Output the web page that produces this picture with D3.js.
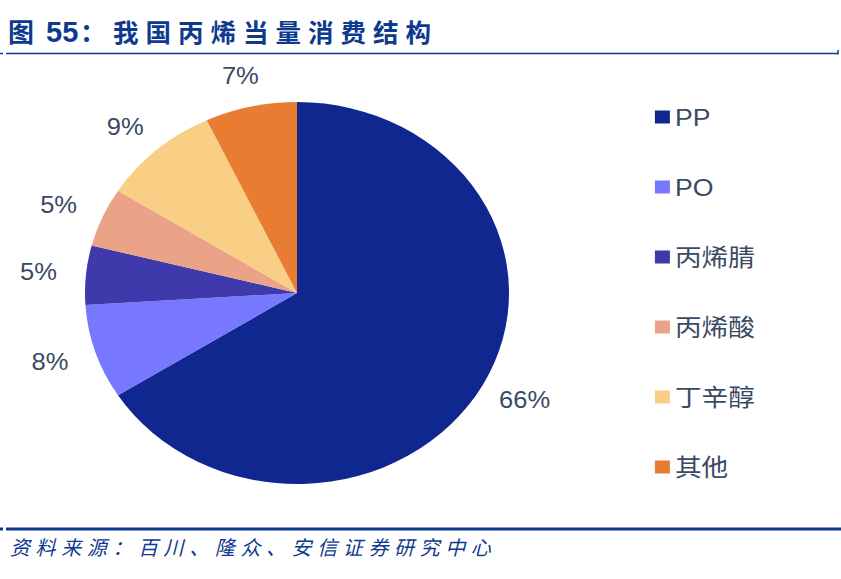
<!DOCTYPE html>
<html>
<head>
<meta charset="utf-8">
<script src="https://cdn.jsdelivr.net/npm/d3@7"></script>
<style>
  body { margin: 0; background: #fff; }
  svg { display: block; }
</style>
</head>
<body>
<svg id="paper"></svg>
<script>
const categories = ["PP", "PO", "丙烯腈", "丙烯酸", "丁辛醇", "其他"];
const shares = [66, 8, 5, 5, 9, 7];
const sliceColors = ["#10278f", "#7878fe", "#3e3aac", "#eba387", "#f8cf84", "#e87c32"];

const width = 841, height = 579;
const stretch = 1.11; // the original picture is a little wider than tall
const cx = 297, cy = 293, radius = 191;
const labelRx = 234, labelRy = 222;
const textColor = "#3b4a64";
const navy = "#0d3a8e";
const cjk = "'Noto Sans CJK SC', sans-serif";

const svg = d3.select("#paper")
  .attr("width", width)
  .attr("height", height);

// title
const title = svg.append("g")
  .attr("class", "title")
  .attr("fill", navy)
  .attr("font-weight", "bold");

title.append("text")
  .attr("x", 8).attr("y", 42)
  .attr("font-family", cjk)
  .attr("font-size", 26)
  .text("图");
title.append("text")
  .attr("x", 46).attr("y", 42)
  .attr("font-family", "'Liberation Sans', Arial, sans-serif")
  .attr("font-size", 29)
  .text("55");
title.append("text")
  .attr("x", 80).attr("y", 42)
  .attr("font-family", cjk)
  .attr("font-size", 26)
  .text("：");
title.append("text")
  .attr("x", 113).attr("y", 42)
  .attr("font-family", cjk)
  .attr("font-size", 25.5)
  .attr("letter-spacing", 7)
  .text("我国丙烯当量消费结构");

svg.append("line")
  .attr("x1", 0).attr("x2", 3)
  .attr("y1", 53.5).attr("y2", 53.5)
  .attr("stroke", navy).attr("stroke-width", 1.5);
svg.append("line")
  .attr("x1", 6).attr("x2", 838)
  .attr("y1", 53.5).attr("y2", 53.5)
  .attr("stroke", navy).attr("stroke-width", 1.5);
svg.append("line")
  .attr("x1", 838).attr("x2", 838)
  .attr("y1", 50).attr("y2", 54.5)
  .attr("stroke", navy).attr("stroke-width", 1.5);

// bottom rule + source
svg.append("rect")
  .attr("x", 6).attr("y", 527.5)
  .attr("width", 835).attr("height", 3)
  .attr("fill", navy);
svg.append("rect")
  .attr("x", 0).attr("y", 527.5)
  .attr("width", 3).attr("height", 3)
  .attr("fill", navy);

svg.append("text")
  .attr("x", 10)
  .attr("y", 555)
  .attr("fill", navy)
  .attr("font-family", cjk)
  .attr("font-style", "italic")
  .attr("font-size", 20)
  .attr("letter-spacing", 5.6)
  .text("资料来源：百川、隆众、安信证券研究中心");

// chart area, stretched horizontally like the original
const chart = svg.append("g")
  .attr("transform", `scale(${stretch},1)`);

const pie = d3.pie()
  .sort(null)
  .value((d) => d.value);

const data = categories.map((name, i) => ({ name: name, value: shares[i], color: sliceColors[i] }));
const arcs = pie(data);

const arc = d3.arc().innerRadius(0).outerRadius(radius);
const labelArc = d3.arc().innerRadius(labelRx).outerRadius(labelRx);

const pieGroup = chart.append("g")
  .attr("class", "pie")
  .attr("transform", `translate(${cx / stretch},${cy})`);

pieGroup.selectAll("path")
  .data(arcs)
  .enter()
  .append("path")
  .attr("d", arc)
  .attr("fill", (d) => d.data.color);

// labels sit on a slightly flattened ring outside the pie
pieGroup.selectAll(".slice-label")
  .data(arcs)
  .enter()
  .append("text")
  .attr("class", "slice-label")
  .attr("transform", (d) => {
    const [x, y] = labelArc.centroid(d);
    return `translate(${x},${y * labelRy / labelRx})`;
  })
  .attr("text-anchor", "middle")
  .attr("dominant-baseline", "central")
  .attr("fill", textColor)
  .attr("font-family", "'Liberation Sans', Arial, sans-serif")
  .attr("font-size", 23)
  .text((d) => d.data.value + "%");

// legend
const legendX = 590, legendTop = 117, legendStep = 70;
const legend = chart.append("g").attr("class", "legend");

const rows = legend.selectAll(".row")
  .data(data)
  .enter()
  .append("g")
  .attr("class", "row")
  .attr("transform", (d, i) => `translate(${legendX},${legendTop + i * legendStep})`);

rows.append("rect")
  .attr("x", 0)
  .attr("y", -6.5)
  .attr("width", 13.5)
  .attr("height", 13)
  .attr("fill", (d) => d.color);

rows.append("text")
  .attr("x", 18)
  .attr("y", 0)
  .attr("dominant-baseline", "central")
  .attr("fill", textColor)
  .attr("font-family", "'Liberation Sans', 'Noto Sans CJK SC', sans-serif")
  .attr("font-size", 24)
  .text((d) => d.name);
</script>
</body>
</html>
